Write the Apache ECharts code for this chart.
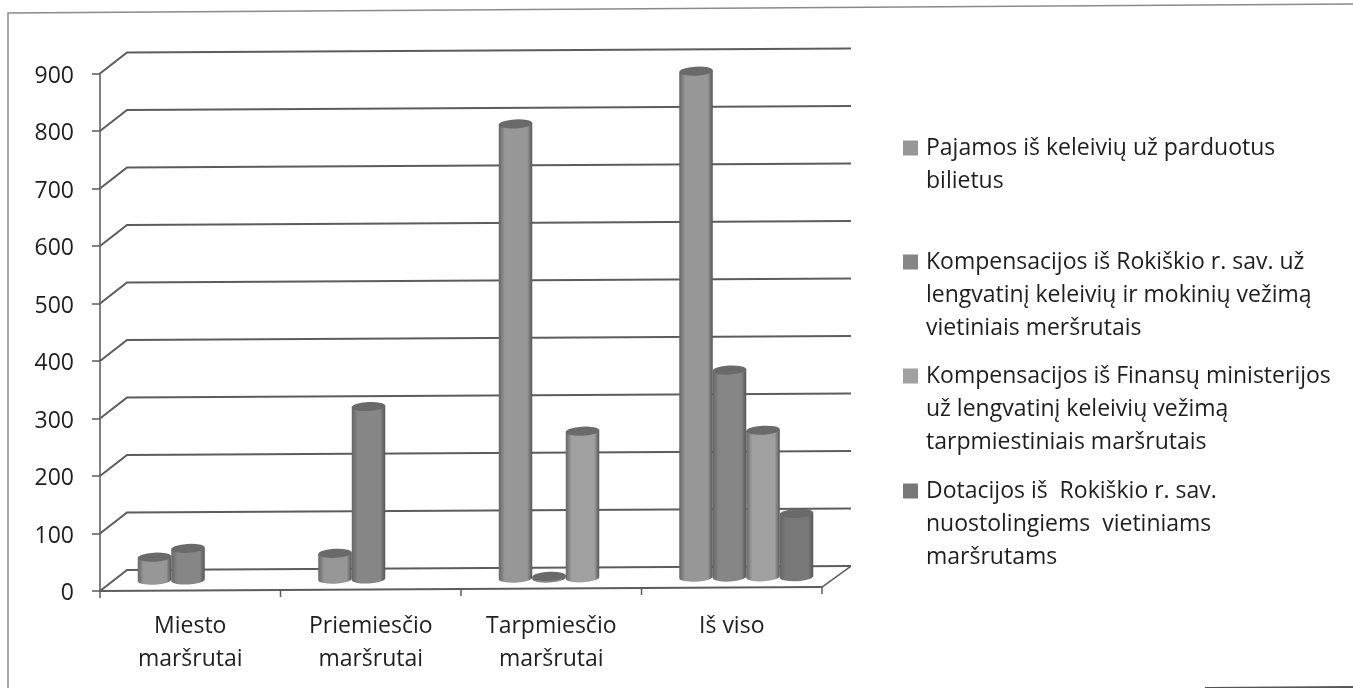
<!DOCTYPE html>
<html>
<head>
<meta charset="utf-8">
<style>
	html, body { margin: 0; padding: 0; background: #fff; }
	#chart { width: 1353px; height: 688px; }
</style>
<script src="https://cdn.jsdelivr.net/npm/echarts@6/dist/echarts.min.js"></script>
</head>
<body>
<div id="chart"></div>
<script>
//data
var categories = ['Miesto\nmaršrutai', 'Priemiesčio\nmaršrutai', 'Tarpmiesčio\nmaršrutai', 'Iš viso'];
var yTicks = [0, 100, 200, 300, 400, 500, 600, 700, 800, 900];

var seriesNames = [
	'Pajamos iš keleivių už parduotus bilietus',
	'Kompensacijos iš Rokiškio r. sav. už lengvatinį keleivių ir mokinių vežimą vietiniais meršrutais',
	'Kompensacijos iš Finansų ministerijos už lengvatinį keleivių vežimą tarpmiestiniais maršrutais',
	'Dotacijos iš  Rokiškio r. sav. nuostolingiems  vietiniams maršrutams'
];
var legendLines = [
	'Pajamos iš keleivių už parduotus\nbilietus',
	'Kompensacijos iš Rokiškio r. sav. už\nlengvatinį keleivių ir mokinių vežimą\nvietiniais meršrutais',
	'Kompensacijos iš Finansų ministerijos\nuž lengvatinį keleivių vežimą\ntarpmiestiniais maršrutais',
	'Dotacijos iš  Rokiškio r. sav.\nnuostolingiems  vietiniams\nmaršrutams'
];

var pajamos = [40, 45, 790, 880];
var rokiskis = [55, 300, 3, 360];
var finansai = [null, null, 255, 255];
var dotacijos = [null, null, null, 110];

var colors = ['#979797', '#868686', '#a0a0a0', '#787878'];
var lineColor = '#5c5c5c';
var fontName = 'Open Sans';

//the scan is slightly rotated and the chart has a fake depth
var tilt = -0.0055;
var depthX = 27, depthY = 21;
var barW = 33.5, ellipseH = 4.5;

var slopeAt = function(x, x0) { return (x - x0) * tilt; };

//side wall and back wall lines, one per tick
var renderWall = function(params, api) {
	var sys = params.coordSys;
	var y = api.coord([0, api.value(0)])[1];
	var xb = sys.x + depthX, yb = y - depthY;
	var xe = sys.x + sys.width + depthX + 2;
	return {
		type: 'polyline',
		shape: { points: [[sys.x, y], [xb, yb], [xe, yb + slopeAt(xe, xb)]] },
		style: { fill: null, stroke: lineColor, lineWidth: 2 }
	};
};

//floor edge and x axis with its ticks
var renderFloor = function(params, api) {
	var sys = params.coordSys;
	var y = api.coord([0, 0])[1];
	var xe = sys.x + sys.width;
	var ye = y + slopeAt(xe, sys.x);
	var children = [
		{ type: 'line', shape: { x1: sys.x, y1: y, x2: xe, y2: ye }, style: { stroke: lineColor, lineWidth: 2 } },
		{ type: 'line', shape: { x1: xe, y1: ye, x2: xe + depthX + 2, y2: ye - depthY }, style: { stroke: lineColor, lineWidth: 1.5 } }
	];
	for (var i = 0; i <= categories.length; i++) {
		var x = sys.x + sys.width * i / categories.length;
		var yt = y + slopeAt(x, sys.x);
		children.push({ type: 'line', shape: { x1: x, y1: yt, x2: x, y2: yt + 7 }, style: { stroke: lineColor, lineWidth: 1.5 } });
	}
	return { type: 'group', children: children };
};

//one cylinder, placed in the middle of the fake depth
var makeCylinder = function(seriesIndex) {
	return function(params, api) {
		var val = api.value(1);
		if (val == null || isNaN(val)) return null;
		var sys = params.coordSys;
		var top = api.coord([api.value(0), val]);
		var bottom = api.coord([api.value(0), 0]);
		var cx = top[0] + (seriesIndex - 1.5) * barW + 14.5;
		var rx = barW / 2;
		var shift = slopeAt(cx, sys.x) - depthY / 2;
		var yT = top[1] + shift, yB = bottom[1] + shift;
		var l = cx - rx, r = cx + rx;
		var body = 'M' + l + ' ' + (yT + 1) +
			' L' + l + ' ' + (yB + 1) +
			' A' + rx + ' ' + ellipseH + ' -3 0 0 ' + r + ' ' + (yB - 1) +
			' L' + r + ' ' + (yT - 1) + ' Z';
		var cap = 'M' + l + ' ' + (yT + 1) +
			' A' + rx + ' ' + ellipseH + ' -3 1 1 ' + r + ' ' + (yT - 1) +
			' A' + rx + ' ' + ellipseH + ' -3 1 1 ' + l + ' ' + (yT + 1) + ' Z';
		var base = colors[seriesIndex];
		return {
			type: 'group',
			children: [
				{
					type: 'path',
					shape: { pathData: body },
					style: {
						fill: new echarts.graphic.LinearGradient(0, 0, 1, 0, [
							{ offset: 0, color: '#666666' },
							{ offset: 0.18, color: base },
							{ offset: 0.5, color: base },
							{ offset: 0.85, color: base },
							{ offset: 1, color: '#555555' }
						])
					}
				},
				{ type: 'path', shape: { pathData: cap }, style: { fill: '#6a6a6a' } }
			]
		};
	};
};

var toPoints = function(values) {
	return values.map(function(v, i) { return [i, v]; });
};

var barSeries = function(idx, values) {
	return {
		name: seriesNames[idx],
		type: 'custom',
		coordinateSystem: 'cartesian2d',
		renderItem: makeCylinder(idx),
		encode: { x: 0, y: 1 },
		itemStyle: { color: colors[idx] },
		data: toPoints(values),
		z: 5
	};
};

//one legend per entry; leading blank lines keep the first text line level with the icon
var legendBox = function(idx, iconY) {
	var text = legendLines[idx];
	var lines = text.split('\n').length;
	var blanks = '';
	for (var i = 1; i < lines; i++) blanks += '\n';
	return {
		show: true,
		left: 903,
		top: iconY - (2 * lines - 1) * 33 / 2,
		padding: 0,
		orient: 'vertical',
		icon: 'rect',
		itemWidth: 15,
		itemHeight: 15,
		selectedMode: false,
		data: [seriesNames[idx]],
		formatter: function() { return blanks + text; },
		textStyle: {
			fontFamily: fontName,
			fontSize: 23,
			color: '#1e1e1e',
			lineHeight: 33,
			padding: [0, 0, 0, 3]
		}
	};
};

var myChart = echarts.init(document.getElementById('chart'));
myChart.setOption({
	animation: false,
	backgroundColor: '#fff',
	grid: { left: 100, top: 73.5, width: 722, height: 517.5, containLabel: false },
	legend: [
		legendBox(0, 148),
		legendBox(1, 262),
		legendBox(2, 376),
		legendBox(3, 491)
	],
	xAxis: {
		type: 'category',
		data: categories,
		axisLine: { show: false },
		axisTick: { show: false },
		axisLabel: {
			interval: 0,
			margin: 19,
			fontFamily: fontName,
			fontSize: 23,
			lineHeight: 33,
			color: '#1e1e1e'
		}
	},
	yAxis: {
		type: 'value',
		min: 0,
		max: 900,
		interval: 100,
		splitLine: { show: false },
		axisLine: { show: true, lineStyle: { color: '#808080', width: 2 } },
		axisTick: { show: true, length: 8, lineStyle: { color: lineColor, width: 1.5 } },
		axisLabel: {
			margin: 26,
			formatter: '{v|{value}}',
			rich: {
				v: {
					padding: [5, 0, 0, 0],
					fontFamily: fontName,
					fontSize: 23,
					color: '#1e1e1e'
				}
			}
		}
	},
	//page frame left by the scan
	graphic: [
		{
			type: 'polyline',
			silent: true,
			shape: { points: [[8, 688], [8, 13], [1353, 4]] },
			style: { fill: null, stroke: '#8a8a8a', lineWidth: 1.5 }
		},
		{
			type: 'line',
			silent: true,
			shape: { x1: 1205, y1: 688, x2: 1353, y2: 687 },
			style: { stroke: '#555', lineWidth: 2 }
		}
	],
	series: [
		{
			type: 'custom',
			renderItem: renderWall,
			encode: { y: 0 },
			data: yTicks.map(function(t) { return [t]; }),
			silent: true,
			z: 1
		},
		{
			type: 'custom',
			renderItem: renderFloor,
			data: [[0]],
			silent: true,
			z: 2
		},
		barSeries(0, pajamos),
		barSeries(1, rokiskis),
		barSeries(2, finansai),
		barSeries(3, dotacijos)
	]
});
</script>
</body>
</html>
